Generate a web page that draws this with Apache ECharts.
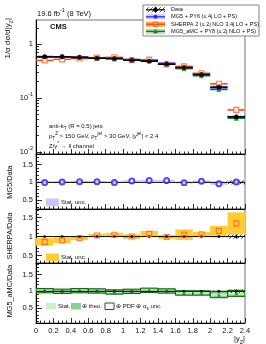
<!DOCTYPE html>
<html><head><meta charset="utf-8">
<script src="https://cdn.jsdelivr.net/npm/echarts@6/dist/echarts.min.js"></script>
<style>html,body{margin:0;padding:0;background:#fff}#c{width:266px;height:344px}</style>
</head><body><div id="c"></div>
<script>
// ---------------- data ----------------
const binEdges = [0,0.2,0.4,0.6,0.8,1.0,1.2,1.4,1.6,1.8,2.0,2.2,2.4];
const xTickLabels = ['0','0.2','0.4','0.6','0.8','1','1.2','1.4','1.6','1.8','2','2.2','2.4'];
const topTickValues = [0.01,0.1,1];
const topTickLabels = ['10{s|-2}','10{s|-1}','1'];
const topMinorTicks = [0.02,0.03,0.04,0.05,0.06,0.07,0.08,0.09,0.2,0.3,0.4,0.5,0.6,0.7,0.8,0.9,2];
const ratioTickValues = [0.5,1,1.5];
const ratioTickLabels = ['0.5','1','1.5'];
const ratioMinorTicks = [0.1,0.2,0.3,0.4,0.6,0.7,0.8,0.9,1.1,1.2,1.3,1.4,1.6,1.7,1.8];

const dataVals   = [0.579,0.579,0.564,0.547,0.541,0.502,0.481,0.423,0.367,0.271,0.159,0.0445];
const dataRelUnc = [0.008,0.008,0.008,0.008,0.008,0.008,0.008,0.01,0.01,0.012,0.02,0.055];

const mgTop    = [0.579,0.585,0.575,0.558,0.541,0.522,0.505,0.444,0.363,0.279,0.153,0.0449];
const mgTopUnc = [0.015,0.015,0.015,0.015,0.015,0.015,0.015,0.015,0.02,0.02,0.025,0.03];
const mgRatio  = [1.00,1.01,1.02,1.02,1.00,1.04,1.05,1.05,0.99,1.03,0.96,1.01];
const mgStat   = [0.02,0.02,0.02,0.02,0.02,0.02,0.02,0.02,0.02,0.025,0.03,0.04];

const shTop    = [0.498,0.521,0.541,0.563,0.568,0.502,0.515,0.419,0.385,0.287,0.183,0.060];
const shTopUnc = [0.03,0.03,0.03,0.03,0.03,0.03,0.03,0.03,0.035,0.035,0.04,0.05];
const shRatio  = [0.86,0.90,0.96,1.03,1.05,1.00,1.07,0.99,1.05,1.06,1.15,1.35];
const shStat   = [0.10,0.075,0.05,0.045,0.05,0.06,0.08,0.05,0.14,0.06,0.13,0.29];

const amcTop   = [0.591,0.579,0.575,0.552,0.530,0.502,0.495,0.427,0.349,0.257,0.143,0.0418];
const amcTopUnc= [0.02,0.02,0.02,0.02,0.02,0.02,0.02,0.02,0.025,0.025,0.03,0.035];
const amcRatio = [1.02,1.00,1.02,1.01,0.98,1.00,1.03,1.01,0.95,0.95,0.90,0.94];
const amcStat  = [0.02,0.02,0.02,0.02,0.02,0.02,0.02,0.02,0.02,0.02,0.03,0.04];
const amcTheo  = [0.07,0.07,0.07,0.07,0.07,0.07,0.07,0.07,0.07,0.07,0.1,0.1];
const amcPdf   = [0.065,0.065,0.065,0.065,0.065,0.065,0.065,0.065,0.065,0.065,0.09,0.09];

// ---------------- helpers ----------------
const FONT = '"Liberation Sans", Arial, sans-serif';
const lows = binEdges.slice(0, -1);
const centers = lows.map((e, i) => (e + binEdges[i + 1]) / 2);

function hatchCanvas() {
  const c = document.createElement('canvas'); c.width = 4; c.height = 4;
  const g = c.getContext('2d'); g.strokeStyle = '#000'; g.lineWidth = 0.7;
  g.beginPath(); g.moveTo(0, 4); g.lineTo(4, 0); g.stroke();
  return c;
}
const HATCH = { image: hatchCanvas(), repeat: 'repeat' };

function relBand(vals, rel) { return lows.map((x0, i) => [x0, binEdges[i + 1], vals[i] * (1 - rel[i]), vals[i] * (1 + rel[i])]); }
function absBand(vals, err) { return lows.map((x0, i) => [x0, binEdges[i + 1], vals[i] - err[i], vals[i] + err[i]]); }
function segs(vals) { return lows.map((x0, i) => [x0, binEdges[i + 1], vals[i]]); }

function rectSeries(gi, yi, rows, style, z) {
  return { type: 'custom', xAxisIndex: gi, yAxisIndex: yi, z: z, clip: true, silent: true,
    data: rows, encode: { x: [0, 1], y: [2, 3] },
    renderItem: function (params, api) {
      const p0 = api.coord([api.value(0), api.value(3)]);
      const p1 = api.coord([api.value(1), api.value(2)]);
      return { type: 'rect', shape: { x: p0[0], y: p0[1], width: p1[0] - p0[0], height: p1[1] - p0[1] },
        style: Object.assign({}, style) };
    } };
}
function segSeries(gi, yi, rows, color, w, z) {
  return { type: 'custom', xAxisIndex: gi, yAxisIndex: yi, z: z, clip: true, silent: true,
    data: rows, encode: { x: [0, 1], y: 2 },
    renderItem: function (params, api) {
      const a = api.coord([api.value(0), api.value(2)]);
      const b = api.coord([api.value(1), api.value(2)]);
      return { type: 'line', shape: { x1: a[0], y1: a[1], x2: b[0], y2: b[1] }, style: { stroke: color, lineWidth: w } };
    } };
}
function vbarSeries(gi, yi, rows, color, w, z) {
  return { type: 'custom', xAxisIndex: gi, yAxisIndex: yi, z: z, clip: true, silent: true,
    data: rows, encode: { x: 0, y: [1, 2] },
    renderItem: function (params, api) {
      const a = api.coord([api.value(0), api.value(1)]);
      const b = api.coord([api.value(0), api.value(2)]);
      return { type: 'line', shape: { x1: a[0], y1: a[1], x2: b[0], y2: b[1] }, style: { stroke: color, lineWidth: w } };
    } };
}
function markers(gi, yi, vals, symbol, size, itemStyle, z) {
  return { type: 'scatter', xAxisIndex: gi, yAxisIndex: yi, z: z, silent: true,
    symbol: symbol, symbolSize: size, itemStyle: itemStyle,
    data: centers.map((c, i) => [c, vals[i]]) };
}
const ones = centers.map(() => 1);

// ---------------- layout ----------------
const gridsPx = [
  { top: 20, height: 134 },
  { top: 154, height: 55 },
  { top: 209, height: 54 },
  { top: 263, height: 60 }
];
const grid = gridsPx.map(g => ({ left: 36, right: 21, top: g.top, height: g.height, show: true,
  borderColor: '#777', borderWidth: 1, backgroundColor: 'transparent', containLabel: false, outerBoundsMode: 'none' }));

const xAxis = [0, 1, 2, 3].map(i => ({
  type: 'value', gridIndex: i, min: 0, max: 2.4, interval: 0.2,
  axisLine: { show: true, onZero: false, lineStyle: { color: '#000', width: 1 } },
  axisTick: { show: true, inside: true, length: 5, lineStyle: { color: '#000', width: 0.8 } },
  minorTick: { show: true, splitNumber: 4, length: 2.5, lineStyle: { color: '#000', width: 0.8 } },
  splitLine: { show: false }, minorSplitLine: { show: false },
  axisLabel: { show: i === 3, margin: 4, fontSize: 7.5, color: '#111', fontFamily: FONT,
    formatter: v => xTickLabels[Math.round(v / 0.2)] }
}));

const labRich = { s: { fontSize: 5.5, lineHeight: 6, verticalAlign: 'top', fontFamily: FONT, color: '#111' } };
const yAxis = [
  { type: 'log', gridIndex: 0, min: 0.0091, max: 2.8, position: 'left',
    axisLine: { show: true, onZero: false, lineStyle: { color: '#000' } },
    axisTick: { show: true, inside: true, length: 6, customValues: topTickValues, lineStyle: { color: '#000', width: 0.8 } },
    axisLabel: { customValues: topTickValues, margin: 3, fontSize: 7.5, lineHeight: 13, color: '#111', fontFamily: FONT, rich: labRich,
      formatter: v => { let k = 0; topTickValues.forEach((t, j) => { if (Math.abs(Math.log10(v) - Math.log10(t)) < 0.01) k = j; }); return topTickLabels[k]; } },
    splitLine: { show: false } },
  { type: 'log', gridIndex: 0, min: 0.0091, max: 2.8, position: 'left',
    axisLine: { show: false }, axisLabel: { show: false }, splitLine: { show: false },
    axisTick: { show: true, inside: true, length: 3, customValues: topMinorTicks, lineStyle: { color: '#000', width: 0.8 } } }
];
const ratioRanges = [[0.25, 1.8], [0.3, 1.73], [0.06, 1.84]];
ratioRanges.forEach((r, k) => {
  const gi = k + 1;
  yAxis.push({ type: 'value', gridIndex: gi, min: r[0], max: r[1], position: 'left',
    axisLine: { show: true, onZero: false, lineStyle: { color: '#000' } },
    axisTick: { show: true, inside: true, length: 6, customValues: ratioTickValues, lineStyle: { color: '#000', width: 0.8 } },
    axisLabel: { customValues: ratioTickValues, margin: 3, fontSize: 7.5, color: '#111', fontFamily: FONT,
      formatter: v => { let k2 = 0; ratioTickValues.forEach((t, j) => { if (Math.abs(v - t) < 1e-6) k2 = j; }); return ratioTickLabels[k2]; } },
    splitLine: { show: false } });
  yAxis.push({ type: 'value', gridIndex: gi, min: r[0], max: r[1], position: 'left',
    axisLine: { show: false }, axisLabel: { show: false }, splitLine: { show: false },
    axisTick: { show: true, inside: true, length: 3, customValues: ratioMinorTicks, lineStyle: { color: '#000', width: 0.8 } } });
});

// ---------------- colours ----------------
const C = {
  mgLine: '#2424e8', mgBand: '#c8c8ff',
  shLine: '#ff3c14', shBandTop: '#ffb4a0', shBandRatio: '#ffcc33', shMark: '#ff5a1e',
  amcLine: '#137a13', amcBandTop: '#a8e0a8', amcStat: '#c8f2c8', amcTheo: '#8fcf8f', amcPdf: '#0b640b', amcMark: '#1f7d1f'
};

// ---------------- series ----------------
const series = [];
// top panel
series.push(rectSeries(0, 0, relBand(mgTop, mgTopUnc), { fill: C.mgBand }, 1));
series.push(rectSeries(0, 0, relBand(shTop, shTopUnc), { fill: C.shBandTop }, 1));
series.push(rectSeries(0, 0, relBand(amcTop, amcTopUnc), { fill: C.amcBandTop }, 1));
series.push(rectSeries(0, 0, relBand(dataVals, dataRelUnc), { fill: HATCH }, 2));
series.push(segSeries(0, 0, segs(amcTop), C.amcLine, 1.2, 3));
series.push(segSeries(0, 0, segs(mgTop), C.mgLine, 1.2, 3));
series.push(segSeries(0, 0, segs(shTop), C.shLine, 1.2, 3));
series.push(markers(0, 0, amcTop, 'triangle', 5, { color: C.amcMark }, 4));
series.push(markers(0, 0, mgTop, 'circle', 4.5, { color: C.mgLine }, 4));
series.push(markers(0, 0, shTop, 'rect', 5, { color: '#fff', borderColor: C.shMark, borderWidth: 1.1 }, 4));
series.push(segSeries(0, 0, segs(dataVals), '#000', 1.6, 5));
series.push(vbarSeries(0, 0, centers.map((c, i) => [c, dataVals[i] * (1 - dataRelUnc[i]), dataVals[i] * (1 + dataRelUnc[i])]), '#000', 1, 5));
series.push(markers(0, 0, dataVals, 'circle', 5, { color: '#000' }, 6));

// ratio panels common data
function dataRatio(gi, yi) {
  series.push(rectSeries(gi, yi, absBand(ones, dataRelUnc), { fill: HATCH }, 2));
  series.push(segSeries(gi, yi, segs(ones), '#000', 1, 3));
  series.push(vbarSeries(gi, yi, centers.map((c, i) => [c, 1 - dataRelUnc[i], 1 + dataRelUnc[i]]), '#000', 1, 4));
  series.push(markers(gi, yi, ones, 'circle', 3, { color: '#000' }, 5));
}
// MG5 / Data
series.push(rectSeries(1, 2, absBand(mgRatio, mgStat), { fill: C.mgBand }, 1));
dataRatio(1, 2);
series.push(markers(1, 2, mgRatio, 'emptyCircle', 5, { color: C.mgLine, borderWidth: 1.1 }, 6));
// SHERPA / Data
series.push(rectSeries(2, 4, absBand(shRatio, shStat), { fill: C.shBandRatio }, 1));
dataRatio(2, 4);
series.push(markers(2, 4, shRatio, 'rect', 5, { color: 'rgba(0,0,0,0)', borderColor: C.shMark, borderWidth: 1.1 }, 6));
// MG5_aMC / Data
series.push(rectSeries(3, 6, absBand(amcRatio, amcTheo), { fill: C.amcTheo }, 1));
series.push(rectSeries(3, 6, absBand(amcRatio, amcStat), { fill: C.amcStat }, 1));
dataRatio(3, 6);
series.push(rectSeries(3, 6, absBand(amcRatio, amcPdf), { fill: 'none', stroke: C.amcPdf, lineWidth: 1 }, 5));
series.push(markers(3, 6, amcRatio, 'triangle', 4, { color: C.amcMark }, 6));

// ---------------- text & legends ----------------
const rich6 = {
  sup: { fontSize: 4.6, lineHeight: 5, verticalAlign: 'top', fontFamily: FONT, fill: '#111' },
  sub: { fontSize: 4.6, lineHeight: 5, verticalAlign: 'bottom', fontFamily: FONT, fill: '#111' }
};
const rich75 = {
  sup: { fontSize: 5.5, lineHeight: 6, verticalAlign: 'top', fontFamily: FONT, fill: '#111' },
  sub: { fontSize: 5.5, lineHeight: 6, verticalAlign: 'bottom', fontFamily: FONT, fill: '#111' }
};
function txt(x, y, text, size, opts) {
  opts = opts || {};
  return { type: 'text', x: x, y: y, rotation: opts.rot || 0, z: 100,
    style: { text: text, fontSize: size, fontFamily: FONT, fontWeight: opts.bold ? 'bold' : 'normal',
      fill: '#111', align: opts.align || 'left', verticalAlign: 'middle',
      lineHeight: opts.lh || size * 1.7, rich: size >= 7 ? rich75 : rich6 } };
}
function rect(x, y, w, h, style) { return { type: 'rect', z: 100, shape: { x: x, y: y, width: w, height: h }, style: style }; }
function line(x1, y1, x2, y2, color, w) { return { type: 'line', z: 101, shape: { x1: x1, y1: y1, x2: x2, y2: y2 }, style: { stroke: color, lineWidth: w } }; }

const g = [];
g.push(txt(37, 14, '19.6 fb{sup|-1} (8 TeV)', 7.5));
g.push(txt(50, 26.5, 'CMS', 7.5, { bold: true }));
g.push(txt(49, 126, 'anti-k{sub|T} (R = 0.5) jets', 6));
g.push(txt(49, 136.5, 'p{sub|T}{sup|Z} > 150 GeV, p{sub|T}{sup|jet} > 30 GeV, |y{sup|jet}| < 2.4', 6));
g.push(txt(49, 146, 'Z/γ{sup|*} → ll channel', 6));
g.push(txt(8, 18, '1/σ dσ/d|y{sub|Z}|', 7.8, { rot: Math.PI / 2, align: 'right' }));
g.push(txt(10, 182, 'MG5/Data', 7.3, { rot: Math.PI / 2, align: 'center' }));
g.push(txt(10, 236, 'SHERPA/Data', 7.3, { rot: Math.PI / 2, align: 'center' }));
g.push(txt(10, 291, 'MG5_aMC/Data', 7.3, { rot: Math.PI / 2, align: 'center' }));
g.push(txt(245, 339, '|y{sub|Z}|', 7.5, { align: 'right' }));

// top legend
g.push(rect(143, 5, 116, 31, { fill: '#fff', stroke: '#666', lineWidth: 0.8 }));
const legRows = [9.8, 16.8, 24.2, 31.4];
const legNames = ['Data', 'MG5 + PY6 (≤ 4j LO + PS)', 'SHERPA 2 (≤ 2j NLO 3,4j LO + PS)', 'MG5_aMC + PY8 (≤ 2j NLO + PS)'];
const legBand = [HATCH, C.mgBand, '#ffaa44', C.amcBandTop];
const legLine = ['#000', C.mgLine, C.shLine, C.amcLine];
legRows.forEach((y, i) => {
  g.push(rect(146, y - 2.5, 19, 5, { fill: legBand[i] }));
  g.push(line(146, y, 165, y, legLine[i], 1.2));
  g.push(txt(171, y, legNames[i], 5.6));
});
g.push(line(155.5, legRows[0] - 3, 155.5, legRows[0] + 3, '#000', 1));
g.push({ type: 'circle', z: 102, shape: { cx: 155.5, cy: legRows[0], r: 2.2 }, style: { fill: '#000' } });
g.push({ type: 'circle', z: 102, shape: { cx: 155.5, cy: legRows[1], r: 2 }, style: { fill: C.mgLine } });
g.push(rect(153.3, legRows[2] - 2.2, 4.4, 4.4, { fill: '#ffd070', stroke: C.shMark, lineWidth: 1 }));
g.push({ type: 'polygon', z: 102, shape: { points: [[155.5, legRows[3] - 2.6], [157.9, legRows[3] + 1.8], [153.1, legRows[3] + 1.8]] }, style: { fill: C.amcMark } });

// ratio legends
g.push(rect(46, 198.5, 13, 7.5, { fill: C.mgBand }));
g.push(txt(61, 202.5, 'Stat. unc.', 6));
g.push(rect(46, 253.5, 13, 7.5, { fill: C.shBandRatio }));
g.push(txt(61, 257.5, 'Stat. unc.', 6));
g.push(rect(46, 303, 10, 6.5, { fill: C.amcStat }));
g.push(txt(58, 306.3, 'Stat.', 6));
g.push(rect(71, 303, 10, 6.5, { fill: C.amcTheo }));
g.push(txt(82, 306.3, '⊕ theo.', 6));
g.push(rect(105, 303, 9, 6.5, { fill: '#fff', stroke: C.amcPdf, lineWidth: 1 }));
g.push(txt(116, 306.3, '⊕ PDF ⊕ α{sub|s} unc.', 6));

const chart = echarts.init(document.getElementById('c'), null, { renderer: 'canvas', width: 266, height: 344 });
chart.setOption({
  animation: false,
  backgroundColor: '#fff',
  textStyle: { fontFamily: FONT },
  grid: grid, xAxis: xAxis, yAxis: yAxis, series: series,
  graphic: { elements: g }
});
</script></body></html>
